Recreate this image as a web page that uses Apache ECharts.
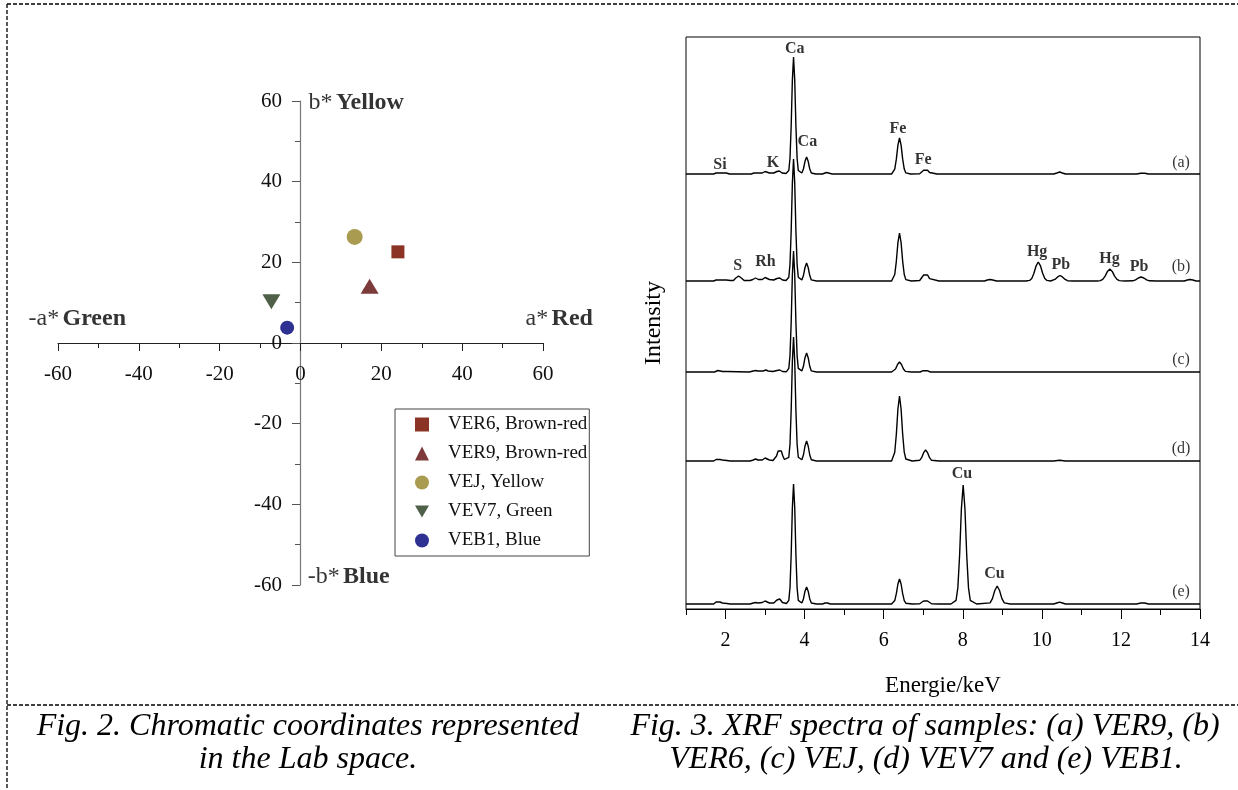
<!DOCTYPE html>
<html><head><meta charset="utf-8">
<script src="https://cdn.jsdelivr.net/npm/echarts@6/dist/echarts.min.js"></script>
<style>html,body{margin:0;padding:0;background:#fff}#c{width:1238px;height:790px}</style>
</head><body><div id="c"></div><script>
// ---------- Fig. 2 data (CIELab a*, b*) ----------
const labSamples = ['VER6, Brown-red','VER9, Brown-red','VEJ, Yellow','VEV7, Green','VEB1, Blue'];
const labA = [24.1, 17.1, 13.4, -7.2, -3.3];
const labB = [22.6, 14.1, 26.3, 10.2, 3.8];
const labTicks = [-60,-40,-20,0,20,40,60];
const labAxisWords = [['-a*','Green'],['a*','Red'],['b*','Yellow'],['-b*','Blue']];
const labAxisWordAt = [[-67.3,6],[55.7,6],[2.0,59.5],[1.8,-58]];

// ---------- Fig. 3 data (XRF spectra, keV vs relative intensity) ----------
const xrfTicks = [2,4,6,8,10,12,14];
const spectrumNames = ['(a)','(b)','(c)','(d)','(e)'];
const spectrumOffsets = [435,328,237,148,5];
const specA = [[1.0,0],[1.70,0],[1.76,1],[1.81,2],[1.86,1],[1.92,1],[1.97,2],[2.02,1],[2.10,0],
[2.65,0],[2.72,1],[2.77,1.5],[2.82,1],[2.93,1],[3.00,2.5],[3.05,3],[3.11,1],[3.22,1],[3.30,2.5],[3.36,3],[3.43,1],[3.53,0.5],
[3.60,3.5],[3.63,15.8],[3.66,48],[3.69,93.6],[3.72,117],[3.75,93.6],[3.78,48],[3.81,15.8],[3.84,3.5],
[3.93,1],[3.97,5],[4.01,12.7],[4.05,17],[4.09,12.7],[4.13,5],[4.17,1],
[4.28,0],[4.45,0],[4.50,1],[4.55,1.5],[4.60,1],[4.70,0],
[6.20,0],[6.24,1.1],[6.28,4.9],[6.32,14.8],[6.36,28.8],[6.40,36],[6.44,28.8],[6.48,14.8],[6.52,4.9],[6.56,1.1],[6.68,0],
[6.91,0.3],[6.96,1.5],[7.01,3.7],[7.06,5],[7.11,3.7],[7.16,1.5],[7.21,0.3],[7.35,0],
[10.30,0],[10.38,1],[10.45,2],[10.52,1],[10.60,0],[12.40,0],[12.50,0.8],[12.60,0.8],[12.70,0],[14.0,0]];
const specB = [[1.0,0],[1.70,0],[1.76,1],[1.81,2],[1.86,1],[1.92,1],[1.97,2],[2.02,1],[2.12,0.5],
[2.20,0.5],[2.26,3],[2.33,5],[2.40,3],[2.47,0.5],
[2.62,0.5],[2.69,1.5],[2.76,3],[2.83,1.5],[2.93,1.5],[3.00,3.5],[3.05,4],[3.11,1.5],[3.22,1],[3.30,2.5],[3.37,3],[3.44,1],[3.53,0.5],
[3.60,3.7],[3.63,16.5],[3.66,50],[3.69,97.6],[3.72,122],[3.75,97.6],[3.78,50],[3.81,16.5],[3.84,3.7],
[3.93,1.1],[3.97,5.4],[4.01,13.5],[4.05,18],[4.09,13.5],[4.13,5.4],[4.17,1.1],[4.30,0],
[6.20,0],[6.24,1.4],[6.28,6.5],[6.32,19.7],[6.36,38.4],[6.40,48],[6.44,38.4],[6.48,19.7],[6.52,6.5],[6.56,1.4],[6.70,0],
[6.91,0.5],[6.96,2.4],[7.01,6],[7.06,8],[7.11,6],[7.16,2.4],[7.21,0.5],[7.40,0],
[8.55,0],[8.62,1],[8.69,1.5],[8.76,1],[8.85,0],
[9.60,0],[9.69,0.6],[9.745,2.6],[9.80,7.8],[9.855,15.2],[9.91,19],[9.965,15.2],[10.02,7.8],[10.075,2.6],[10.13,0.6],[10.22,0],
[10.27,0.3],[10.33,1.6],[10.40,4.1],[10.46,5.5],[10.52,4.1],[10.59,1.6],[10.65,0.3],[10.80,0],
[11.40,0],[11.48,0.4],[11.54,1.6],[11.60,4.9],[11.66,9.6],[11.72,12],[11.78,9.6],[11.84,4.9],[11.90,1.6],[11.96,0.4],[12.10,0],
[12.30,0.2],[12.37,1.2],[12.44,3],[12.51,4],[12.58,3],[12.65,1.2],[12.72,0.2],[12.90,0],
[13.60,0],[13.68,1],[13.75,1.5],[13.82,1],[13.90,0],[14.0,0]];
const specC = [[1.0,0],[1.72,0],[1.77,1],[1.81,1.5],[1.86,1],[1.92,0.5],[1.97,1.5],[2.03,0.5],
[2.60,0],[2.70,1],[2.76,1.5],[2.82,1],[2.95,1],[3.02,2],[3.08,1],[3.20,0.5],[3.30,1.5],[3.37,2],[3.44,0.5],[3.54,0.3],
[3.60,3.6],[3.63,16.3],[3.66,49.6],[3.69,96.8],[3.72,121],[3.75,96.8],[3.78,49.6],[3.81,16.3],[3.84,3.6],
[3.93,1.1],[3.97,5.7],[4.01,14.3],[4.05,19],[4.09,14.3],[4.13,5.7],[4.17,1.1],[4.30,0],
[6.20,0],[6.25,0.6],[6.30,3],[6.35,7.5],[6.40,10],[6.45,7.5],[6.50,3],[6.55,0.6],[6.70,0],
[6.92,0],[7.00,1.3],[7.05,2],[7.10,1.3],[7.18,0],[14.0,0]];
const specD = [[1.0,0],[1.70,0],[1.76,1.5],[1.81,3],[1.86,1.5],[1.92,1],[1.97,2],[2.03,0.5],[2.12,0],
[2.62,0],[2.70,1],[2.76,2],[2.82,1],[2.93,1],[3.00,3],[3.05,3.5],[3.11,1],
[3.20,0.5],[3.25,1.5],[3.29,5],[3.33,10],[3.37,12],[3.41,10],[3.45,5],[3.49,1.5],[3.54,0.5],
[3.60,3.7],[3.63,16.7],[3.66,50.8],[3.69,99.2],[3.72,124],[3.75,99.2],[3.78,50.8],[3.81,16.7],[3.84,3.7],
[3.93,1.2],[3.97,6],[4.01,15],[4.05,20],[4.09,15],[4.13,6],[4.17,1.2],[4.30,0],
[6.20,0],[6.24,2],[6.28,8.8],[6.32,26.7],[6.36,52],[6.40,65],[6.44,52],[6.48,26.7],[6.52,8.8],[6.56,2],[6.72,0],
[6.91,0.7],[6.96,3.3],[7.01,8.3],[7.06,11],[7.11,8.3],[7.16,3.3],[7.21,0.7],[7.40,0],
[10.30,0],[10.45,0.8],[10.60,0],[14.0,0]];
const specE = [[1.0,0],[1.70,0],[1.76,2],[1.81,4],[1.86,2],[1.92,1],[1.97,1.5],[2.03,0.5],[2.12,0],
[2.62,0],[2.70,1],[2.76,1.5],[2.82,1],[2.93,1.5],[3.00,3],[3.05,3],[3.11,1],[3.22,1],[3.30,4],[3.37,5],[3.44,1.5],[3.54,0.5],
[3.60,3.6],[3.63,16.2],[3.66,49.2],[3.69,96],[3.72,120],[3.75,96],[3.78,49.2],[3.81,16.2],[3.84,3.6],
[3.93,1],[3.97,5.1],[4.01,12.8],[4.05,17],[4.09,12.8],[4.13,5.1],[4.17,1],
[4.30,0],[4.45,0],[4.52,1],[4.58,1],[4.65,0],
[6.20,0],[6.24,0.8],[6.28,3.4],[6.32,10.3],[6.36,20],[6.40,25],[6.44,20],[6.48,10.3],[6.52,3.4],[6.56,0.8],[6.72,0],
[6.91,0.2],[6.96,1.2],[7.01,3],[7.06,4],[7.11,3],[7.16,1.2],[7.21,0.2],[7.40,0],
[7.70,0],[7.83,3.6],[7.875,16.1],[7.92,48.8],[7.965,95.2],[8.01,119],[8.055,95.2],[8.10,48.8],[8.145,16.1],[8.19,3.6],[8.35,0],
[8.69,1.1],[8.75,5.4],[8.81,13.5],[8.87,18],[8.93,13.5],[8.99,5.4],[9.05,1.1],[9.20,0],
[10.30,0],[10.38,1],[10.45,1.8],[10.52,1],[10.60,0],[12.40,0],[12.50,1],[12.60,1],[12.70,0],[14.0,0]];
const spectra = [specA, specB, specC, specD, specE];
// peak annotations: [keV, plotted level] and text
const peakLabelText = ['Ca','Ca','Fe','Fe','Si','K','S','Rh','Hg','Pb','Hg','Pb','Cu','Cu'];
const peakLabelAt = [[3.75,560],[4.07,467],[6.36,480],[7.0,449],[1.86,444],[3.20,446],
  [2.31,343],[3.01,347],[9.88,357],[10.48,344],[11.71,350],[12.46,342],[7.98,135],[8.8,35]];
const sampleLabelAt = [[13.52,446],[13.52,342],[13.52,249],[13.52,160],[13.52,17]];

// ---------- styles ----------
const SERIF = '"Liberation Serif","Times New Roman",serif';
const labSymbols = ['rect','triangle','circle','triangle','circle'];
const labLegendIcons = ['rect','triangle','circle','path://M0,0L20,0L10,17Z','circle'];
const labSizes = [13,[18,15],16,[18,15],14];
const labRot = [0,0,0,180,0];
const labColors = ['#8B3426','#7D3A3A','#A99B4F','#4E6048','#2E3192'];

const series = [];
labSamples.forEach((name,i)=>{
  series.push({type:'scatter', name, xAxisIndex:0, yAxisIndex:0,
    symbol:labSymbols[i], symbolSize:labSizes[i], symbolRotate:labRot[i],
    itemStyle:{color:labColors[i], opacity:1}, data:[[labA[i], labB[i]]], silent:true});
});
series.push({type:'scatter', xAxisIndex:0, yAxisIndex:0, symbolSize:0, clip:false, silent:true,
  data: labAxisWordAt.map((p,i)=>({value:p, name:labAxisWords[i][0]+'|'+labAxisWords[i][1]})),
  label:{show:true, position:'right', distance:0, color:'#000',
    formatter:(p)=>{const s=p.name.split('|'); return '{n|'+s[0]+'} {b|'+s[1]+'}';},
    rich:{n:{fontFamily:SERIF,fontSize:24,color:'#000'}, b:{fontFamily:SERIF,fontSize:24,fontWeight:'bold',color:'#000'}}}
});
spectra.forEach((sp,i)=>{
  series.push({type:'line', name:spectrumNames[i], xAxisIndex:1, yAxisIndex:1, showSymbol:false, symbol:'none',
    silent:true, lineStyle:{color:'#000', width:1.4}, data: sp.map(p=>[p[0], p[1]+spectrumOffsets[i]])});
});
series.push({type:'scatter', xAxisIndex:1, yAxisIndex:1, symbolSize:0, silent:true,
  data: peakLabelAt.map((p,i)=>({value:p, name:peakLabelText[i]})),
  label:{show:true, position:'inside', formatter:'{b}', fontFamily:SERIF, fontSize:16, fontWeight:'bold', color:'#000'}});
series.push({type:'scatter', xAxisIndex:1, yAxisIndex:1, symbolSize:0, silent:true,
  data: sampleLabelAt.map((p,i)=>({value:p, name:spectrumNames[i]})),
  label:{show:true, position:'inside', formatter:'{b}', fontFamily:SERIF, fontSize:16, color:'#000'}});

const dash = {stroke:'#000', lineWidth:1.3, lineDash:[4,2]};
const capFont = 'italic 32px "Liberation Serif"';
const option = {
  animation:false,
  backgroundColor:'#fff',
  grid:[
    {left:58, right:695, top:101, bottom:205},
    {left:686, right:38, top:37, bottom:181, show:true, borderColor:'#000', borderWidth:1}
  ],
  xAxis:[
    {gridIndex:0, type:'value', min:-60, max:60, interval:20, position:'bottom', offset:-242,
      axisLine:{onZero:false, lineStyle:{color:'#222', width:1.2}},
      axisTick:{customValues:labTicks, length:8, lineStyle:{color:'#222'}},
      minorTick:{show:true, splitNumber:2, length:5, lineStyle:{color:'#222'}},
      axisLabel:{customValues:labTicks, margin:21, fontSize:21, fontFamily:SERIF, color:'#111'},
      splitLine:{show:false}},
    {gridIndex:1, type:'value', min:1, max:14, interval:1, position:'bottom',
      axisLine:{lineStyle:{color:'#000'}},
      axisTick:{customValues:xrfTicks, length:10, lineStyle:{color:'#000'}},
      axisLabel:{customValues:xrfTicks, margin:22, fontSize:20, fontFamily:SERIF, color:'#000'},
      splitLine:{show:false},
      name:'Energie/keV', nameLocation:'middle', nameGap:65,
      nameTextStyle:{fontSize:23, fontFamily:SERIF, color:'#000'}},
    {gridIndex:1, type:'value', min:1, max:14, interval:1, position:'bottom',
      axisLine:{show:false}, axisTick:{length:6, lineStyle:{color:'#000'}},
      axisLabel:{show:false}, splitLine:{show:false}}
  ],
  yAxis:[
    {gridIndex:0, type:'value', min:-60, max:60, interval:20, position:'left', offset:-242,
      axisLine:{onZero:false, lineStyle:{color:'#777', width:1.2}},
      axisTick:{customValues:labTicks, length:8, lineStyle:{color:'#555'}},
      minorTick:{show:true, splitNumber:2, length:5, lineStyle:{color:'#555'}},
      axisLabel:{customValues:labTicks, margin:18, fontSize:21, fontFamily:SERIF, color:'#111'},
      splitLine:{show:false}},
    {gridIndex:1, type:'value', min:0, max:572,
      axisLine:{show:false}, axisTick:{show:false}, axisLabel:{show:false}, splitLine:{show:false},
      name:'Intensity', nameLocation:'middle', nameGap:20,
      nameTextStyle:{fontSize:24, fontFamily:SERIF, color:'#000'}}
  ],
  legend:{data: labSamples.map((n,i)=>({name:n, icon:labLegendIcons[i]})), orient:'vertical', left:395, top:409, padding:[6,2,6,20],
    itemWidth:14, itemHeight:14, itemGap:10, borderColor:'#444', borderWidth:1, selectedMode:false,
    textStyle:{fontSize:19, fontFamily:SERIF, color:'#111', padding:[0,0,0,14]}},
  graphic:[
    {type:'line', shape:{x1:7,y1:4,x2:1238,y2:4}, style:dash, silent:true},
    {type:'line', shape:{x1:7,y1:4,x2:7,y2:790}, style:dash, silent:true},
    {type:'line', shape:{x1:7,y1:705,x2:1238,y2:705}, style:dash, silent:true},
    {type:'text', silent:true, style:{text:'Fig. 2. Chromatic coordinates represented', x:308, y:727, align:'center', verticalAlign:'middle', font:capFont, fill:'#000'}},
    {type:'text', silent:true, style:{text:'in the Lab space.', x:308, y:760, align:'center', verticalAlign:'middle', font:capFont, fill:'#000'}},
    {type:'text', silent:true, style:{text:'Fig. 3. XRF spectra of samples: (a) VER9, (b)', x:925, y:727, align:'center', verticalAlign:'middle', font:capFont, fill:'#000'}},
    {type:'text', silent:true, style:{text:'VER6, (c) VEJ, (d) VEV7 and (e) VEB1.', x:926, y:760, align:'center', verticalAlign:'middle', font:capFont, fill:'#000'}}
  ],
  series
};
const chart = echarts.init(document.getElementById('c'));
chart.setOption(option);
</script></body></html>
